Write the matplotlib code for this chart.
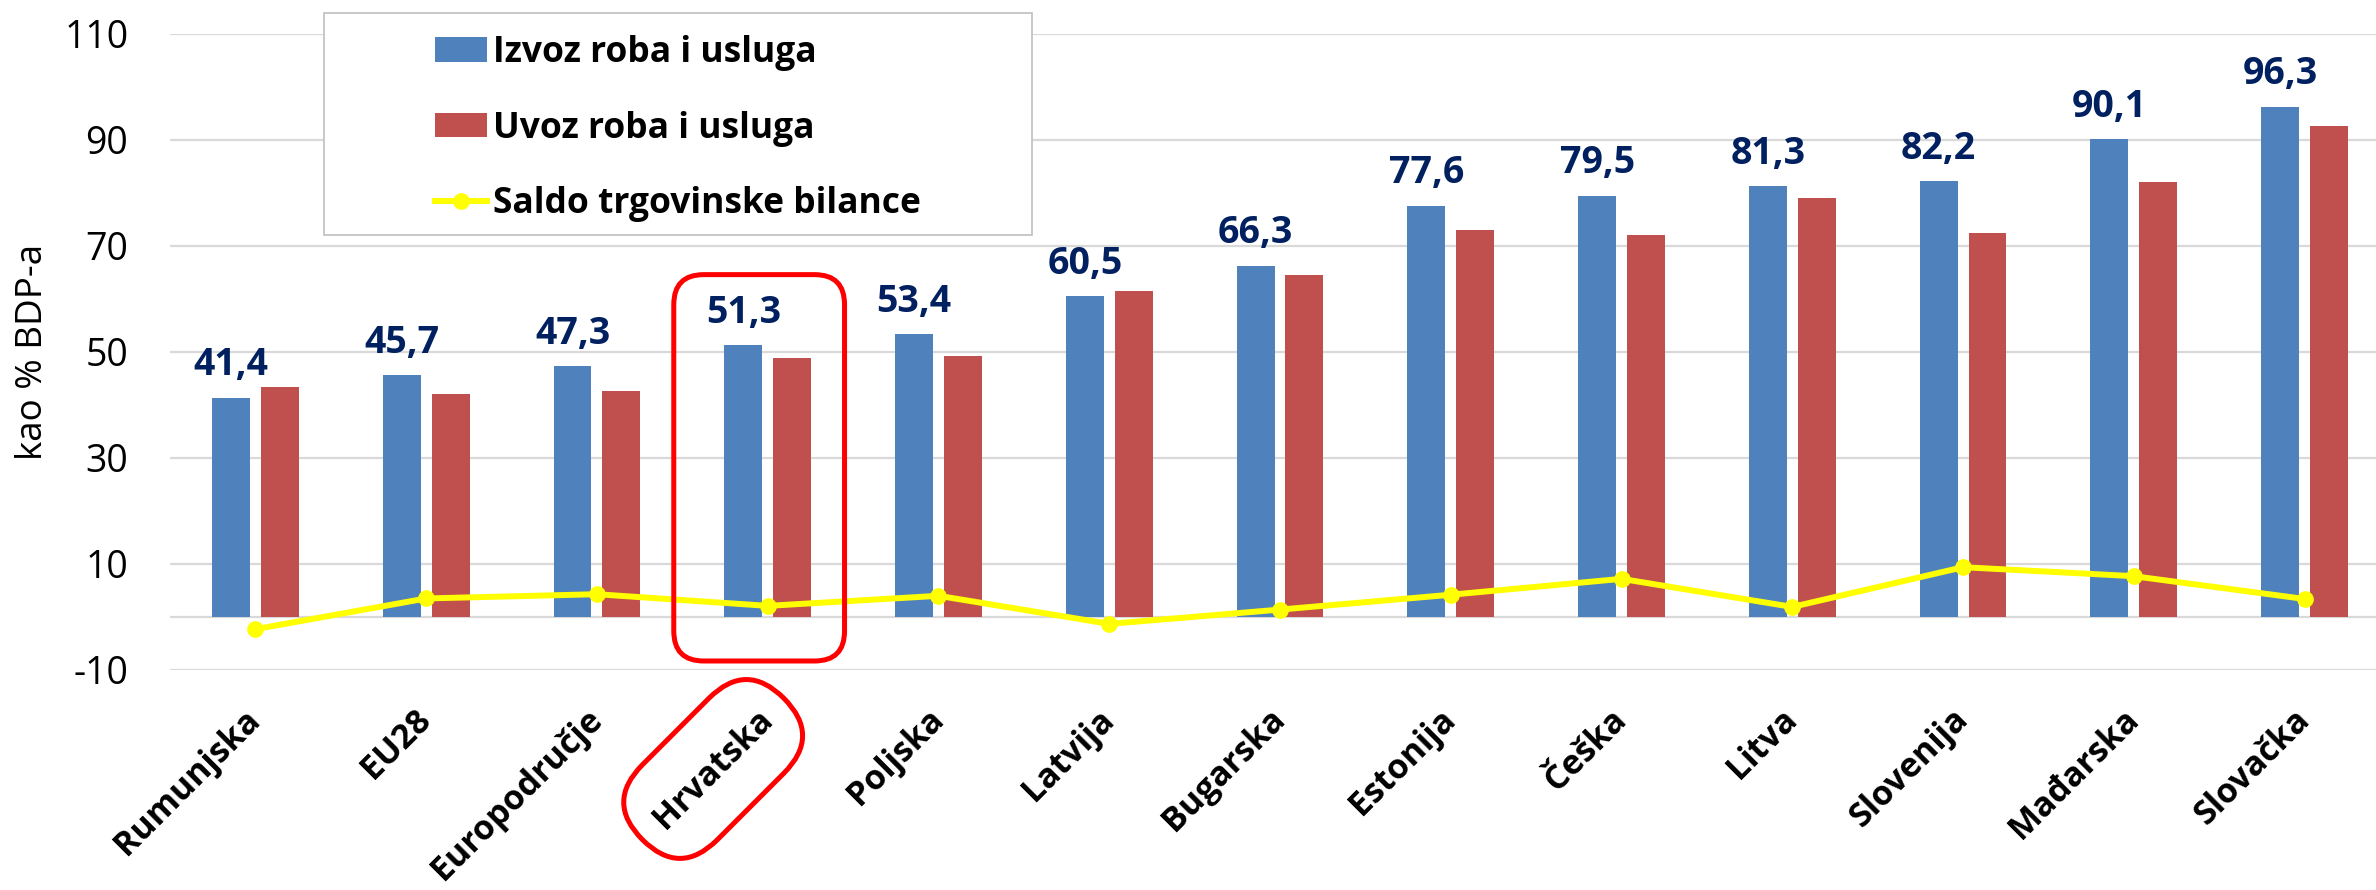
import matplotlib
matplotlib.use("Agg")
import matplotlib.pyplot as plt
import numpy as np
from matplotlib.patches import FancyBboxPatch, Rectangle
from matplotlib.lines import Line2D
from matplotlib.patches import Patch
from matplotlib.transforms import Affine2D, IdentityTransform

categories = ["Rumunjska", "EU28", "Europodručje", "Hrvatska", "Poljska", "Latvija",
              "Bugarska", "Estonija", "Češka", "Litva", "Slovenija", "Mađarska", "Slovačka"]
izvoz = [41.4, 45.7, 47.3, 51.3, 53.4, 60.5, 66.3, 77.6, 79.5, 81.3, 82.2, 90.1, 96.3]
uvoz = [43.4, 42.0, 42.7, 48.9, 49.2, 61.6, 64.6, 73.1, 72.0, 79.1, 72.4, 82.1, 92.6]
saldo = [-2.3, 3.5, 4.3, 2.1, 4.0, -1.3, 1.4, 4.2, 7.2, 1.9, 9.4, 7.7, 3.4]
izvoz_labels = ["41,4", "45,7", "47,3", "51,3", "53,4", "60,5", "66,3", "77,6", "79,5",
                "81,3", "82,2", "90,1", "96,3"]
yticks = [-10, 10, 30, 50, 70, 90, 110]
series_names = ["Izvoz roba i usluga", "Uvoz roba i usluga", "Saldo trgovinske bilance"]
highlight = "Hrvatska"

W, H, DPI = 2376, 890, 100
fig = plt.figure(figsize=(W / DPI, H / DPI), dpi=DPI)
ax = fig.add_axes([170 / W, 1 - 670 / H, (W - 170) / W, (670 - 34) / H])

FONT = ["Open Sans", "DejaVu Sans"]
BLUE = "#4F81BD"
RED = "#C0504D"
YEL = "#FFFF00"
NAVY = "#002060"

x = np.arange(len(categories))
bw = 0.222
off = 0.143
ax.bar(x - off, izvoz, bw, color=BLUE, zorder=2)
ax.bar(x + off, uvoz, bw, color=RED, zorder=2)
ax.plot(x, saldo, color=YEL, lw=4.3, marker="o", ms=11, zorder=4)

for xi, v, lab in zip(x, izvoz, izvoz_labels):
    ax.annotate(lab, (xi - off, v), xytext=(0, 16), textcoords="offset points",
                ha="center", va="baseline", fontsize=27, fontweight="bold",
                color=NAVY, family=FONT, zorder=5)

ax.set_ylim(-10, 110)
ax.set_xlim(-0.5, 12.5 - 14 / 170.75)
ax.set_yticks(yticks)
ax.set_yticklabels([str(t) for t in yticks], fontsize=27, family=FONT)
ax.yaxis.grid(True, color="#D9D9D9", lw=1.6, zorder=0)
ax.set_axisbelow(True)
ax.tick_params(axis="y", length=0, pad=30)
ax.tick_params(axis="x", length=0, pad=32)
ax.set_xticks(x)
ax.set_xticklabels(categories, fontsize=24.5, fontweight="bold", family=FONT)
for lbl in ax.get_xticklabels():
    lbl.set_rotation(45)
    lbl.set_ha("right")
    lbl.set_va("center")
    lbl.set_rotation_mode("anchor")
for s in ax.spines.values():
    s.set_visible(False)
ax.axhline(0, color="#D9D9D9", lw=1.6, zorder=1)

ax.set_ylabel("kao % BDP-a", fontsize=26.5, family=FONT, va="center")
ax.yaxis.set_label_coords((33 - 170) / (W - 170), 0.5)

# legend frame
fig.patches.append(Rectangle((324 / W, 1 - 235 / H), (1032 - 324) / W, (235 - 13) / H,
                             transform=fig.transFigure, facecolor="white",
                             edgecolor="#BFBFBF", lw=1.2, zorder=10))
handles = [Patch(facecolor=BLUE), Patch(facecolor=RED),
           Line2D([], [], color=YEL, lw=4.3, marker="o", ms=11)]
leg = fig.legend(handles, series_names, loc="upper left",
                 bbox_to_anchor=(435 / W, 1 - 35 / H), borderaxespad=0, borderpad=0,
                 frameon=False, handlelength=1.47, handleheight=0.68,
                 handletextpad=0.17, labelspacing=1.12,
                 prop={"family": FONT, "weight": "bold", "size": 25.5})
leg.set_zorder(11)

# highlight annotations
fig.canvas.draw()
hi = categories.index(highlight)
p0 = ax.transData.transform((hi - 0.55, -8.3))
p1 = ax.transData.transform((hi + 0.45, 64.6))
rect = FancyBboxPatch((p0[0], p0[1]), p1[0] - p0[0], p1[1] - p0[1],
                      boxstyle="round,pad=0,rounding_size=30", transform=IdentityTransform(),
                      facecolor="none", edgecolor="#FF0000", lw=3.6, zorder=20)
fig.patches.append(rect)

bb = ax.get_xticklabels()[hi].get_window_extent()
cx, cy = (bb.x0 + bb.x1) / 2, (bb.y0 + bb.y1) / 2
a, r = 47, 53
stad = FancyBboxPatch((-(a + r), -r), 2 * (a + r), 2 * r,
                      boxstyle=f"round,pad=0,rounding_size={r}",
                      transform=Affine2D().rotate_deg(45).translate(cx, cy),
                      facecolor="none", edgecolor="#FF0000", lw=3.6, zorder=20)
fig.patches.append(stad)

fig.savefig("out.png", dpi=DPI)
